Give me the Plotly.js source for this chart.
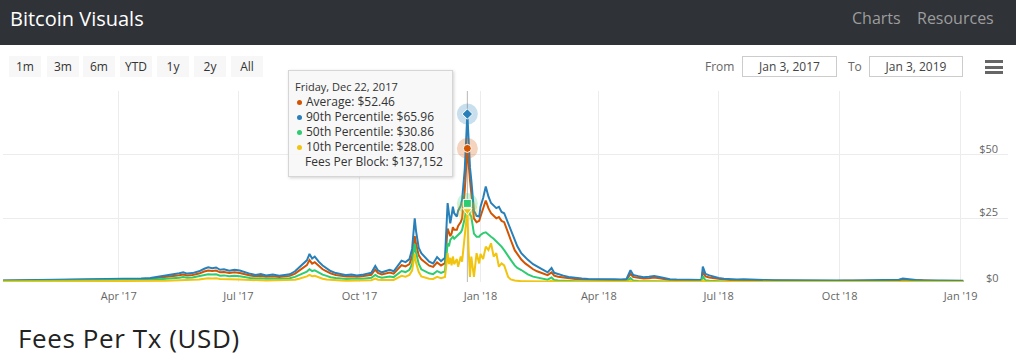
<!DOCTYPE html>
<html>
<head>
<meta charset="utf-8">
<script src="https://cdn.plot.ly/plotly-3.0.1.min.js"></script>
<style>
  html, body { margin:0; padding:0; background:#fff; }
  body { width:1016px; height:362px; overflow:hidden; position:relative; font-family:"Open Sans", sans-serif; }
  #nav { position:absolute; left:0; top:0; width:1016px; height:45px; background:#2f3237; }
  #brand { position:absolute; left:10px; top:0; line-height:38px; font-size:20px; color:#fff; }
  .navlink { position:absolute; top:0; line-height:37px; font-size:16px; color:#9d9d9d; }
  .rbtn { position:absolute; top:56px; width:32px; height:21px; line-height:21px; background:#f7f7f7; color:#333; font-size:12px; text-align:center; }
  .lbl { position:absolute; top:56px; line-height:21px; font-size:12px; color:#666; }
  .inp { position:absolute; top:56px; height:21px; line-height:19px; box-sizing:border-box; border:1px solid #ccc; font-size:12px; color:#444; text-align:center; }
  .bar { position:absolute; left:985px; width:18px; height:3px; background:#666; }
  #chart { position:absolute; left:0; top:85px; width:1016px; height:225px; }
  #tip { position:absolute; left:288px; top:70px; width:165px; height:107px; box-sizing:border-box; border:1px solid #d6d6d6;
         background:rgba(247,247,247,0.88); box-shadow:1px 1px 3px rgba(0,0,0,0.18); padding:8px 0 0 6px; color:#333; }
  #tip .row { height:15px; line-height:15px; font-size:12px; white-space:nowrap; }
  #tip .hdr { height:15px; line-height:15px; font-size:11px; white-space:nowrap; }
  #tip .dot { display:inline-block; width:5px; height:5px; border-radius:50%; margin:0 4px 1px 2px; vertical-align:middle; }
  #title { position:absolute; left:18px; top:319px; font-size:26px; line-height:38px; color:#222; letter-spacing:0.6px; }
</style>
</head>
<body>
<div id="nav">
  <div id="brand">Bitcoin Visuals</div>
  <div class="navlink" style="left:852px">Charts</div>
  <div class="navlink" style="left:917px">Resources</div>
</div>
<div id="buttons"></div>
<div class="lbl" style="left:705px">From</div>
<div class="inp" style="left:742px;width:95px">Jan 3, 2017</div>
<div class="lbl" style="left:848px">To</div>
<div class="inp" style="left:869px;width:94px">Jan 3, 2019</div>
<div class="bar" style="top:60px"></div>
<div class="bar" style="top:66px"></div>
<div class="bar" style="top:71px"></div>
<div id="chart"></div>
<div id="tip"></div>
<div id="title">Fees Per Tx (USD)</div>
<script>
const rangeButtons = ["1m","3m","6m","YTD","1y","2y","All"];

const dates = [
  "2017-01-03","2017-01-10","2017-01-17","2017-01-24","2017-01-31",
  "2017-02-07","2017-02-14","2017-02-21","2017-02-28",
  "2017-03-07","2017-03-14","2017-03-21","2017-03-28",
  "2017-04-04","2017-04-11","2017-04-18","2017-04-25",
  "2017-05-02","2017-05-07","2017-05-12","2017-05-17","2017-05-20","2017-05-23","2017-05-27",
  "2017-06-01","2017-06-05","2017-06-08","2017-06-11","2017-06-14","2017-06-17","2017-06-20","2017-06-24","2017-06-28",
  "2017-07-02","2017-07-06","2017-07-10","2017-07-14","2017-07-18","2017-07-22","2017-07-27",
  "2017-08-01","2017-08-05","2017-08-09","2017-08-13","2017-08-16","2017-08-19","2017-08-22","2017-08-24","2017-08-26","2017-08-28","2017-08-31",
  "2017-09-03","2017-09-06","2017-09-09","2017-09-13","2017-09-17","2017-09-21","2017-09-25","2017-09-29",
  "2017-10-03","2017-10-07","2017-10-10","2017-10-13","2017-10-15","2017-10-18","2017-10-21","2017-10-24","2017-10-27","2017-10-30",
  "2017-11-02","2017-11-05","2017-11-08","2017-11-10","2017-11-12","2017-11-13","2017-11-15","2017-11-17","2017-11-20","2017-11-23","2017-11-26","2017-11-29",
  "2017-12-02","2017-12-05","2017-12-07","2017-12-08","2017-12-09","2017-12-10","2017-12-11","2017-12-12","2017-12-14","2017-12-15","2017-12-17","2017-12-18","2017-12-20","2017-12-22","2017-12-23","2017-12-24","2017-12-25","2017-12-26","2017-12-27","2017-12-29","2017-12-31",
  "2018-01-01","2018-01-03","2018-01-05","2018-01-07","2018-01-09","2018-01-11","2018-01-13","2018-01-15","2018-01-17","2018-01-19","2018-01-22","2018-01-24","2018-01-27","2018-01-29",
  "2018-02-01","2018-02-04","2018-02-06","2018-02-10","2018-02-13","2018-02-17","2018-02-21","2018-02-24","2018-02-26",
  "2018-03-01","2018-03-05","2018-03-09","2018-03-14","2018-03-19","2018-03-24","2018-03-29",
  "2018-04-03","2018-04-08","2018-04-13","2018-04-18","2018-04-22","2018-04-25","2018-04-27",
  "2018-05-01","2018-05-05","2018-05-09","2018-05-13","2018-05-17","2018-05-21","2018-05-25","2018-05-30",
  "2018-06-04","2018-06-09","2018-06-14","2018-06-18","2018-06-19","2018-06-21","2018-06-24","2018-06-27",
  "2018-07-01","2018-07-05","2018-07-10","2018-07-15","2018-07-20","2018-07-25","2018-07-31",
  "2018-08-06","2018-08-12","2018-08-18","2018-08-24","2018-08-30",
  "2018-09-05","2018-09-11","2018-09-17","2018-09-23","2018-09-29",
  "2018-10-05","2018-10-11","2018-10-17","2018-10-23","2018-10-29",
  "2018-11-04","2018-11-10","2018-11-15","2018-11-18","2018-11-21","2018-11-24","2018-11-28",
  "2018-12-03","2018-12-09","2018-12-15","2018-12-21","2018-12-27",
  "2019-01-03"
];

const p90 = [
  0.55,0.60,0.65,0.62,0.75,
  0.80,0.95,1.00,1.05,
  1.20,1.15,1.25,1.35,
  1.30,1.25,1.40,1.60,
  2.10,2.40,2.80,3.40,3.80,3.30,3.50,
  4.20,5.20,5.80,5.40,5.70,4.80,5.00,4.40,4.80,
  4.50,3.80,3.20,2.80,3.10,2.60,2.90,
  2.50,2.70,3.00,4.20,5.60,6.80,8.50,11.0,9.20,10.0,8.00,
  6.50,5.40,4.30,3.50,3.00,2.70,2.90,2.60,
  2.80,3.30,3.60,6.30,4.60,3.80,4.40,4.80,4.20,6.50,
  8.40,7.80,9.00,13.0,25.0,20.0,13.5,11.3,9.50,8.00,7.30,9.80,
  8.20,9.50,31.0,27.0,23.0,26.0,29.6,27.0,25.7,28.0,30.0,32.3,44.0,65.96,52.0,45.0,40.0,33.0,28.0,26.0,25.7,
  29.6,33.0,37.5,33.6,31.0,30.0,29.0,29.5,27.5,27.0,23.0,20.5,16.0,14.0,
  11.3,9.50,8.70,7.00,6.00,5.00,3.80,5.50,3.60,
  3.00,2.50,2.00,1.60,1.35,1.20,1.10,
  1.15,1.00,1.05,1.00,1.20,4.60,2.80,
  2.30,1.90,2.10,2.40,2.00,1.50,1.10,0.95,
  0.90,1.00,0.85,0.80,6.00,3.20,2.60,2.10,
  1.60,1.30,1.10,0.95,1.05,0.90,0.80,
  0.75,0.70,0.72,0.65,0.68,
  0.72,0.66,0.62,0.64,0.60,
  0.62,0.58,0.60,0.56,0.58,
  0.60,0.62,0.90,1.40,1.20,1.10,0.80,
  0.70,0.60,0.52,0.56,0.50,
  0.48
];

const avg = [
  0.45,0.48,0.52,0.50,0.60,
  0.64,0.75,0.80,0.85,
  0.95,0.92,1.00,1.05,
  1.02,1.00,1.10,1.25,
  1.65,1.90,2.20,2.65,2.95,2.60,2.75,
  3.30,4.10,4.50,4.30,4.50,3.80,3.90,3.50,3.80,
  3.55,3.00,2.55,2.25,2.45,2.05,2.30,
  2.00,2.15,2.40,3.30,4.40,5.30,6.60,8.60,7.20,7.80,6.20,
  5.00,4.20,3.40,2.75,2.40,2.15,2.30,2.10,
  2.25,2.60,2.85,4.90,3.60,3.00,3.45,3.75,3.30,5.10,
  6.60,6.10,7.00,10.0,18.0,15.0,10.5,8.90,7.50,6.40,5.90,7.70,
  6.50,7.40,21.0,19.5,18.0,19.0,21.5,20.5,20.5,22.0,23.5,25.0,36.0,52.46,44.0,40.0,35.0,29.0,25.0,23.5,24.0,
  25.7,28.5,32.0,29.0,27.0,26.0,25.0,25.5,24.0,23.5,19.0,16.5,12.5,11.0,
  8.80,7.30,6.50,5.00,4.20,3.50,2.70,3.80,2.50,
  2.10,1.75,1.40,1.15,0.98,0.88,0.80,
  0.82,0.74,0.76,0.72,0.86,3.20,2.00,
  1.65,1.40,1.50,1.75,1.45,1.10,0.80,0.70,
  0.66,0.72,0.62,0.58,4.00,2.20,1.80,1.50,
  1.15,0.95,0.80,0.70,0.75,0.65,0.60,
  0.56,0.52,0.53,0.48,0.50,
  0.53,0.49,0.46,0.47,0.44,
  0.46,0.43,0.44,0.42,0.43,
  0.44,0.46,0.65,0.95,0.85,0.78,0.58,
  0.52,0.45,0.40,0.42,0.38,
  0.36
];

const p50 = [
  0.30,0.32,0.35,0.34,0.40,
  0.43,0.50,0.52,0.55,
  0.62,0.60,0.66,0.70,
  0.68,0.65,0.72,0.82,
  1.05,1.20,1.40,1.70,1.95,1.70,1.80,
  2.20,2.70,3.00,2.90,3.00,2.50,2.60,2.30,2.50,
  2.30,1.90,1.60,1.40,1.50,1.25,1.40,
  1.20,1.30,1.45,2.00,2.70,3.30,4.10,5.00,4.30,4.60,3.60,
  2.90,2.40,1.90,1.55,1.35,1.20,1.30,1.15,
  1.25,1.50,1.65,2.80,2.10,1.70,2.00,2.20,1.90,3.20,
  4.30,3.90,4.80,7.00,15.0,11.5,7.20,5.00,4.10,3.40,3.10,4.30,
  3.60,4.20,15.2,14.0,16.5,17.0,17.8,17.0,18.0,18.5,19.5,20.5,25.0,30.86,28.0,26.5,25.7,22.0,19.0,17.8,17.8,
  18.5,19.2,19.5,18.5,17.8,17.0,16.0,15.0,13.9,12.5,10.5,8.70,6.50,5.50,
  4.70,3.60,3.00,2.10,1.70,1.30,0.90,1.80,0.80,
  0.60,0.45,0.35,0.28,0.22,0.18,0.16,
  0.16,0.14,0.14,0.13,0.16,1.50,0.60,
  0.40,0.32,0.35,0.40,0.30,0.22,0.15,0.13,
  0.12,0.12,0.11,0.10,2.20,0.70,0.45,0.30,
  0.20,0.15,0.12,0.11,0.11,0.10,0.09,
  0.09,0.08,0.08,0.08,0.08,
  0.08,0.08,0.07,0.07,0.07,
  0.07,0.07,0.07,0.07,0.07,
  0.07,0.07,0.10,0.15,0.12,0.11,0.09,
  0.08,0.07,0.06,0.06,0.06,
  0.06
];

const p10 = [
  0.12,0.13,0.14,0.14,0.16,
  0.17,0.20,0.20,0.22,
  0.24,0.24,0.26,0.28,
  0.27,0.26,0.30,0.34,
  0.42,0.50,0.58,0.70,0.85,0.70,0.75,
  1.00,1.30,1.50,1.40,1.50,1.20,1.20,1.00,1.15,
  1.00,0.85,0.70,0.60,0.65,0.55,0.60,
  0.50,0.55,0.62,0.90,1.30,1.70,2.20,2.80,2.30,2.40,1.70,
  1.30,1.00,0.80,0.65,0.55,0.50,0.55,0.50,
  0.55,0.65,0.70,1.30,0.90,0.75,0.85,0.95,0.80,1.60,
  2.40,2.10,2.80,4.50,11.0,7.50,4.00,2.20,1.60,1.30,1.20,2.00,
  1.50,2.00,11.3,7.00,9.50,6.50,10.0,7.00,9.00,6.00,10.0,8.00,18.0,28.00,12.0,2.00,10.0,6.00,2.00,11.3,7.30,
  11.0,9.00,13.9,12.6,15.2,10.0,11.3,6.00,7.30,6.50,2.00,1.00,0.60,0.40,
  0.30,0.30,0.25,0.20,0.20,0.18,0.15,0.50,0.15,
  0.12,0.10,0.10,0.08,0.07,0.07,0.06,
  0.06,0.06,0.06,0.05,0.06,0.40,0.12,
  0.10,0.08,0.08,0.09,0.08,0.07,0.06,0.05,
  0.05,0.05,0.05,0.05,0.60,0.12,0.10,0.08,
  0.07,0.06,0.05,0.05,0.05,0.05,0.04,
  0.04,0.04,0.04,0.04,0.04,
  0.04,0.04,0.04,0.04,0.04,
  0.04,0.04,0.04,0.04,0.04,
  0.04,0.04,0.05,0.06,0.05,0.05,0.04,
  0.04,0.04,0.03,0.03,0.03,
  0.03
];

const seriesNames = ["Average","90th Percentile","50th Percentile","10th Percentile"];
const seriesColors = ["#d35400","#2980b9","#2ecc71","#f1c40f"];
const seriesSymbols = ["circle","diamond","square","triangle-down"];
const yTickVals = [0,25,50,75];
const yTickText = ["$0","$25","$50",""];
const hoverDate = "2017-12-22";
const hoverFeesPerBlock = 137152;

[p90, avg, p50, p10].forEach(function(a, i){
  if (a.length !== dates.length) console.error("length mismatch", i, a.length, dates.length);
});

// range selector buttons
const btnLeft = [9,47,83,120,157,194,231];
const btnBox = document.getElementById("buttons");
rangeButtons.forEach(function(t, i){
  const d = document.createElement("div");
  d.className = "rbtn"; d.style.left = btnLeft[i] + "px"; d.textContent = t;
  btnBox.appendChild(d);
});

const seriesData = [avg, p90, p50, p10];
const hi = dates.indexOf(hoverDate);

const traces = [];
seriesData.forEach(function(ys, i){
  traces.push({
    type:"scatter", mode:"lines", x:dates, y:ys, name:seriesNames[i],
    line:{color:seriesColors[i], width:2}, hoverinfo:"skip", showlegend:false
  });
});
seriesData.forEach(function(ys, i){
  traces.push({
    type:"scatter", mode:"markers", x:[dates[hi]], y:[ys[hi]],
    marker:{size:21, color:seriesColors[i], opacity:0.25, line:{width:0}},
    hoverinfo:"skip", showlegend:false
  });
});
seriesData.forEach(function(ys, i){
  traces.push({
    type:"scatter", mode:"markers", x:[dates[hi]], y:[ys[hi]],
    marker:{size:8, symbol:seriesSymbols[i], color:seriesColors[i], line:{width:1, color:"#ffffff"}},
    hoverinfo:"skip", showlegend:false
  });
});

const layout = {
  width:1016, height:225,
  margin:{l:3, r:8, t:6, b:28},
  paper_bgcolor:"rgba(0,0,0,0)", plot_bgcolor:"rgba(0,0,0,0)",
  font:{family:"Open Sans, sans-serif", size:11, color:"#666"},
  showlegend:false,
  xaxis:{
    type:"date", range:["2017-01-03","2019-02-06"],
    tick0:"2017-01-01", dtick:"M3", tickformat:"%b '%y",
    showgrid:true, gridcolor:"#ececec", gridwidth:1,
    zeroline:false, showline:false, ticks:"", ticklabelstandoff:6,
    tickfont:{size:11, color:"#666"}, fixedrange:true
  },
  yaxis:{
    range:[0,75], tickvals:yTickVals, ticktext:yTickText,
    side:"right", ticklabelposition:"inside", ticklabelstandoff:7, ticklabelshift:-6,
    showgrid:true, gridcolor:"#ececec", gridwidth:1,
    zeroline:false, showline:false, ticks:"",
    tickfont:{size:11, color:"#666"}, fixedrange:true
  },
  // the bottom label sits at the plot edge, where inside tick labels are clipped
  annotations:[{
    xref:"paper", yref:"y", x:1, y:yTickVals[0], text:yTickText[0],
    xanchor:"right", yanchor:"middle", xshift:-7, yshift:5, showarrow:false,
    font:{family:"Open Sans, sans-serif", size:11, color:"#666"}
  }],
  shapes:[{
    type:"line", xref:"x", yref:"paper", x0:dates[hi], x1:dates[hi], y0:0, y1:1,
    line:{color:"#b8b8b8", width:1}, layer:"below"
  }]
};

Plotly.newPlot("chart", traces, layout, {displayModeBar:false, staticPlot:true});

// tooltip built from the data
const wd = ["Sunday","Monday","Tuesday","Wednesday","Thursday","Friday","Saturday"];
const mo = ["Jan","Feb","Mar","Apr","May","Jun","Jul","Aug","Sep","Oct","Nov","Dec"];
const dd = new Date(hoverDate + "T00:00:00Z");
const header = wd[dd.getUTCDay()] + ", " + mo[dd.getUTCMonth()] + " " + dd.getUTCDate() + ", " + dd.getUTCFullYear();
let html = '<div class="hdr">' + header + '</div>';
seriesData.forEach(function(ys, i){
  html += '<div class="row"><span class="dot" style="background:' + seriesColors[i] + '"></span>' +
          seriesNames[i] + ': $' + ys[hi].toFixed(2) + '</div>';
});
html += '<div class="row" style="padding-left:10px">Fees Per Block: $' + hoverFeesPerBlock.toLocaleString("en-US") + '</div>';
document.getElementById("tip").innerHTML = html;
</script>
</body>
</html>
